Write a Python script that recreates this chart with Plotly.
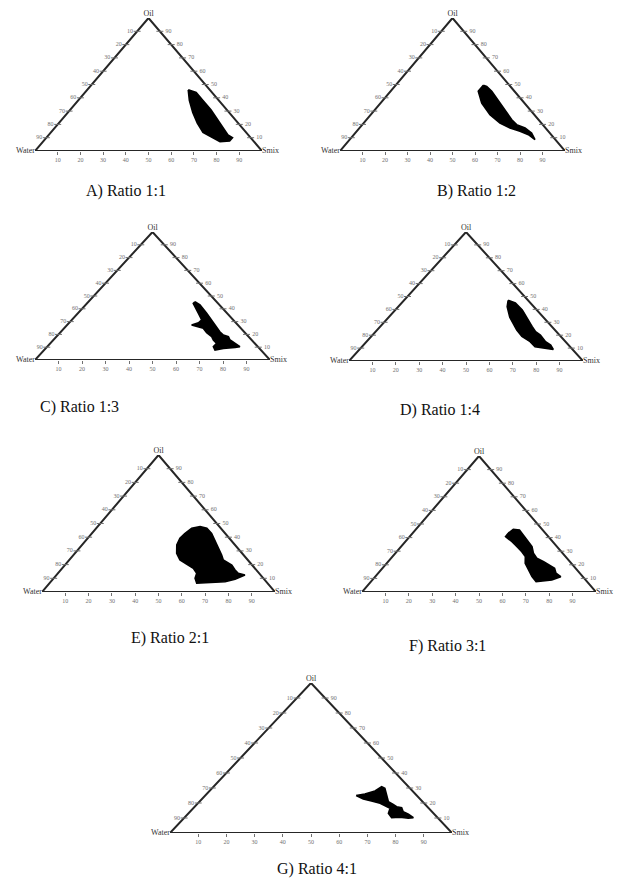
import plotly.graph_objects as go

# captions of the seven phase diagrams
captions = ["A) Ratio 1:1", "B) Ratio 1:2", "C) Ratio 1:3", "D) Ratio 1:4",
            "E) Ratio 2:1", "F) Ratio 3:1", "G) Ratio 4:1"]

# nanoemulsion region outlines (% oil, % Smix; water = rest)
oil_A = [46, 38, 29, 21, 14, 10, 7, 7.5, 10, 12, 17, 23, 31, 38, 44]
smix_A = [44.5, 49, 55, 61, 67, 73.5, 78, 82, 82, 79, 74.5, 69, 62, 55, 49]

oil_B = [49.4, 44.9, 36, 27.3, 21, 17.3, 14.8, 12.3, 8.5, 13.5, 17.3, 19.8, 23.5, 31, 38.6,
         44.9, 48.6]
smix_B = [39, 39, 45, 53, 60.6, 66.9, 72.6, 77.6, 82.4, 78.4, 73.6, 68.6, 64.6, 57.8, 51.1,
          45, 40.9]

oil_C = [45.5, 43, 36.5, 31.3, 26, 22.1, 19.5, 18.2, 15.6, 13, 10.4, 9.9, 9.1, 7.8, 10.4, 13,
         15.6, 18.2, 21.3, 24.8, 26, 27.3, 29.1, 31.3, 36.5, 41.6, 44.3]
smix_C = [45.3, 48.7, 54.8, 59.5, 64.3, 67.6, 70.4, 73.2, 75.2, 78.6, 82, 80.2, 75.6, 72.7,
          70.7, 70.8, 68.1, 66.1, 62.4, 59.2, 56.5, 53, 55, 55.3, 51.3, 47.3, 45.2]

oil_D = [47, 42, 34, 29, 24, 19, 15, 11, 10, 9, 12.4, 15, 20, 22.7, 26.6, 33, 39.5, 45]
smix_D = [44.5, 46.6, 51.7, 55.6, 59.7, 64.4, 69.9, 74, 78, 82.8, 80, 76.5, 71.8, 68.4, 65,
          59.7, 54.3, 48.6]

oil_E = [42.8, 46.5, 47.7, 46.5, 42.8, 38, 31.9, 27, 23.4, 19.7, 16.1, 13.6, 12.4, 9.3, 7.5,
         7.1, 6.4, 10, 13.6, 17.3, 20.9, 23.4, 28.2, 34.3, 39.2]
smix_E = [40, 41, 44, 47.5, 51.4, 55.2, 59.7, 63.6, 66.1, 71.6, 74.8, 77.4, 80.9, 78.2, 74.8,
          69.3, 63.2, 60.7, 59.6, 56.3, 50.9, 47.5, 43.7, 40.7, 39.6]

oil_F = [43.2, 46.1, 45.6, 41.9, 38.2, 33.3, 28.5, 24.8, 22.3, 19.9, 17.4, 13.8, 11.3, 8.8,
         8.3, 7.6, 11.3, 16.2, 21.1, 26, 29.6, 33.3, 37, 40.7]
smix_F = [40.9, 41.6, 44.5, 48, 51.5, 56, 59, 62.3, 66.5, 70.3, 73.6, 76, 79.3, 76.7,
          73.4, 70.6, 67, 63, 59.2, 56.8, 53.5, 49.6, 45.6, 41]

oil_G = [25, 26, 28, 30.9, 29.8, 25.3, 20.9, 19.1, 17.5, 16.9, 14.2, 12.5, 10.2, 9.8, 10.5,
         10.2, 13.1, 16.5, 18.2, 19.8, 21.3, 22.7]
smix_G = [53.5, 56.1, 58.7, 59.6, 61.3, 64.2, 67, 69.6, 71.6, 73.7, 75.6, 78.3, 81.2, 79.6,
          76.3, 73.5, 70.9, 69.8, 67.1, 64.6, 60.8, 57.2]

regions = [(oil_A, smix_A), (oil_B, smix_B), (oil_C, smix_C), (oil_D, smix_D),
           (oil_E, smix_E), (oil_F, smix_F), (oil_G, smix_G)]

tick_vals = [10, 20, 30, 40, 50, 60, 70, 80, 90]

# pixel boxes of each triangle: water-corner x, smix-corner x, base y, apex y
W, H = 618, 882
boxes = [(35, 262, 151, 18), (340, 565, 151, 18),
         (35, 270, 360, 232), (349, 583, 361, 232),
         (42, 275, 592, 455), (362, 596, 592, 456),
         (170, 452, 833, 683)]
cap_pos = [(126, 191), (476, 191), (79, 407), (440, 410), (170, 638), (447, 646), (317, 869)]


def to_x(oil, smix):
    return [s + o / 2 for o, s in zip(oil, smix)]


serif = "Liberation Serif, Times New Roman, serif"
edge = "#262626"
tick_col = "#707070"

fig = go.Figure()
layout = {}
for i, (cap, (oil, smix), box) in enumerate(zip(captions, regions, boxes)):
    n = i + 1
    xa = "x" if n == 1 else f"x{n}"
    ya = "y" if n == 1 else f"y{n}"
    common = dict(xaxis=xa, yaxis=ya, hoverinfo="skip", showlegend=False, cliponaxis=False)

    # triangle frame
    fo = [0, 0, 100, 0]
    fs = [0, 100, 0, 0]
    fig.add_trace(go.Scatter(x=to_x(fo, fs), y=fo, mode="lines",
                             line=dict(color=edge, width=2), **common))

    # region
    fig.add_trace(go.Scatter(x=to_x(oil + oil[:1], smix + smix[:1]), y=oil + oil[:1],
                             mode="lines", fill="toself", fillcolor="black",
                             line=dict(color="black", width=1.6), **common))

    tick_marker = dict(symbol="line-ew-open", size=5, color=tick_col,
                       line=dict(color=tick_col, width=1))
    # right side (oil) ticks
    r_oil = tick_vals
    r_smix = [100 - v for v in tick_vals]
    fig.add_trace(go.Scatter(x=to_x(r_oil, r_smix), y=r_oil, mode="markers+text",
                             marker=tick_marker,
                             text=[f" {v}" for v in tick_vals], textposition="middle right",
                             textfont=dict(family=serif, size=6, color=tick_col), **common))

    # left side (water) ticks
    l_oil = [100 - v for v in tick_vals]
    l_smix = [0] * len(tick_vals)
    fig.add_trace(go.Scatter(x=to_x(l_oil, l_smix), y=l_oil, mode="markers+text",
                             marker=tick_marker,
                             text=[f"{v}" for v in tick_vals], textposition="middle left",
                             textfont=dict(family=serif, size=6, color=tick_col), **common))

    # corner labels
    fig.add_trace(go.Scatter(x=[50], y=[100], mode="text", text=["Oil"],
                             textposition="top center",
                             textfont=dict(family=serif, size=8, color="#333"), **common))
    fig.add_trace(go.Scatter(x=[0], y=[0], mode="text", text=["Water"],
                             textposition="middle left",
                             textfont=dict(family=serif, size=8, color="#333"), **common))
    fig.add_trace(go.Scatter(x=[100], y=[0], mode="text", text=["Smix"],
                             textposition="middle right",
                             textfont=dict(family=serif, size=8, color="#333"), **common))

    wx, sx, by, ay = box
    key = "" if n == 1 else str(n)
    layout[f"xaxis{key}"] = dict(domain=[wx / W, sx / W], range=[0, 100], anchor=ya,
                                 showgrid=False, zeroline=False, showline=False,
                                 tickvals=tick_vals, ticks="outside", ticklen=3,
                                 tickcolor=tick_col, tickwidth=1,
                                 tickfont=dict(family=serif, size=6, color=tick_col))
    layout[f"yaxis{key}"] = dict(domain=[1 - by / H, 1 - ay / H], range=[0, 100], anchor=xa,
                                 visible=False)

annotations = [dict(x=cx / W, y=1 - cy / H, xref="paper", yref="paper", text=cap,
                    xanchor="center", yanchor="middle", showarrow=False,
                    font=dict(family=serif, size=16, color="#111"))
               for cap, (cx, cy) in zip(captions, cap_pos)]

fig.update_layout(width=W, height=H, margin=dict(l=0, r=0, t=0, b=0),
                  plot_bgcolor="white", paper_bgcolor="white",
                  annotations=annotations, **layout)

fig.write_html("out.html", config={"displayModeBar": False},
               post_script="document.body.style.margin='0';")
